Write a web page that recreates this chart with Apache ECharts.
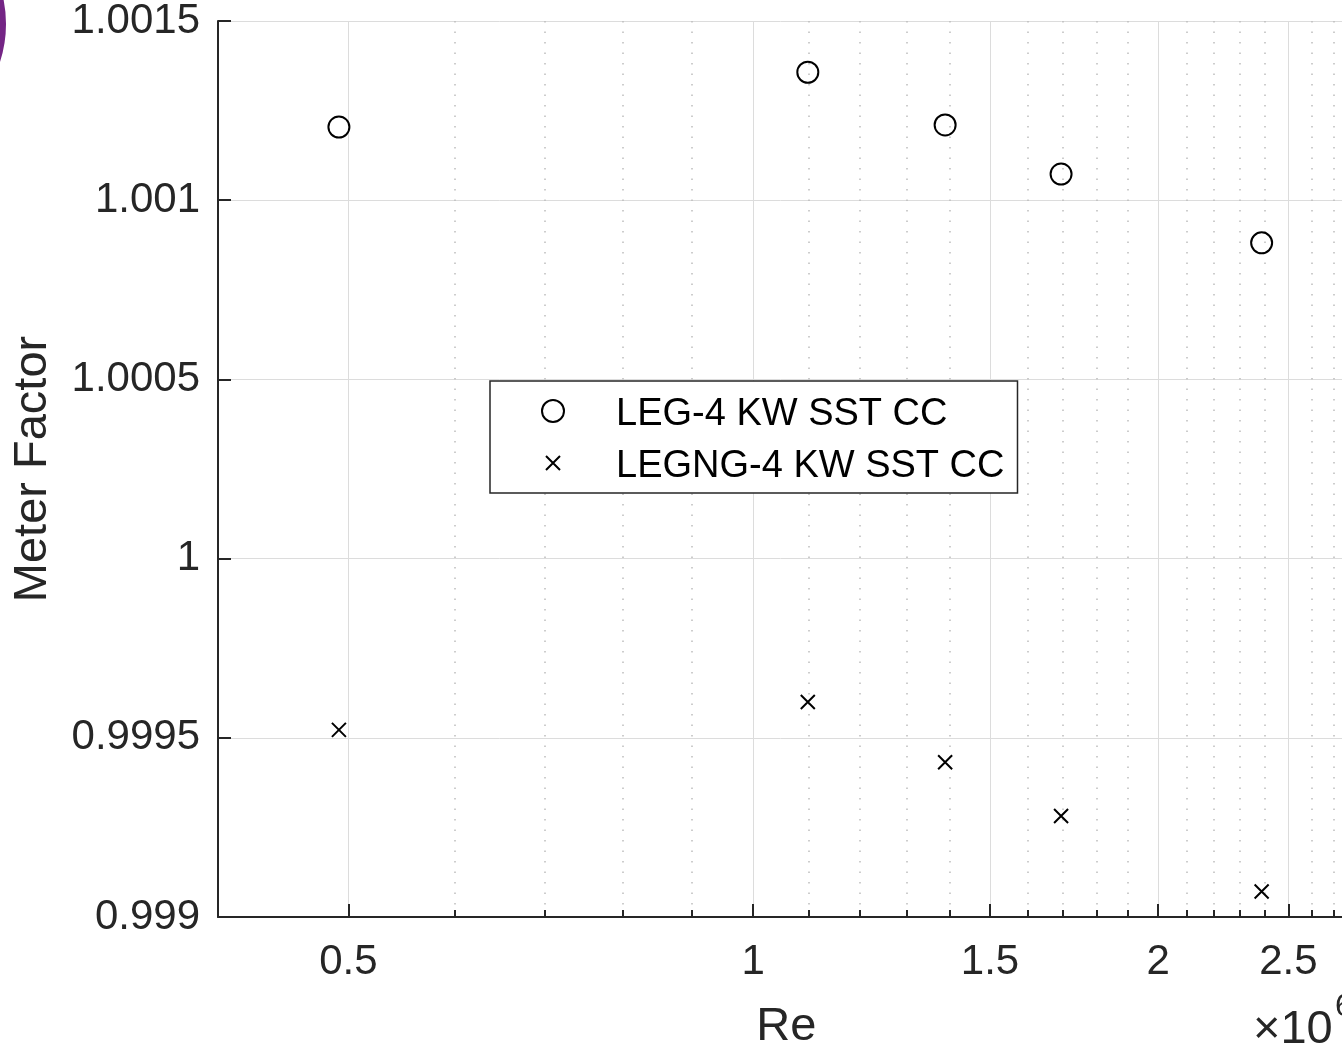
<!DOCTYPE html>
<html>
<head>
<meta charset="utf-8">
<title>Meter Factor vs Re</title>
<script src="https://cdn.jsdelivr.net/npm/echarts@6/dist/echarts.min.js"></script>
<style>
  html, body { margin: 0; padding: 0; background: #ffffff; }
  #chart { width: 1342px; height: 1053px; }
</style>
</head>
<body>
<div id="chart"></div>
<script>
// Reynolds number in units of 10^6
const reMillions = [0.492, 1.098, 1.389, 1.694, 2.388];
// Meter factor, circle series
const mfLEG = [1.001204, 1.001357, 1.00121, 1.001073, 1.000881];
// Meter factor, cross series
const mfLEGNG = [0.999522, 0.9996, 0.999432, 0.999282, 0.999071];
const seriesNames = ['LEG-4 KW SST CC', 'LEGNG-4 KW SST CC'];
// Log-axis ticks (major labelled, minor dotted)
const xMajorTicks = [0.5, 1, 1.5, 2, 2.5];
const xMinorTicks = [0.6, 0.7, 0.8, 0.9, 1.1, 1.2, 1.3, 1.4, 1.6, 1.7, 1.8, 1.9,
                     2.1, 2.2, 2.3, 2.4, 2.6, 2.7];
const xRange = [0.4, 2.8];
const yRange = [0.999, 1.0015];
const yStep = 0.0005;

const FONT = '"Liberation Sans", Arial, Helvetica, sans-serif';
const INK = '#262626';
const CROSS = 'path://M0,0M22,22M4,4L18,18M18,4L4,18';

const chart = echarts.init(document.getElementById('chart'), null, { renderer: 'canvas' });

const pairs = (ys) => reMillions.map((x, i) => [x, ys[i]]);

chart.setOption({
  animation: false,
  backgroundColor: '#ffffff',
  textStyle: { fontFamily: FONT },
  grid: {
    left: 218, top: 21, width: 1136.6, height: 896,
    containLabel: false, outerBoundsMode: 'none'
  },
  legend: {
    orient: 'vertical',
    left: 490, top: 381,
    padding: [7, 13, 7, 51],
    itemWidth: 116, itemHeight: 22, itemGap: 6,
    backgroundColor: '#ffffff',
    borderColor: INK, borderWidth: 1.5, borderRadius: 0,
    selectedMode: false,
    formatter: (name) => '{t|' + name + '}',
    textStyle: {
      fontFamily: FONT, fontSize: 38, color: '#000000', lineHeight: 38,
      rich: { t: { fontFamily: FONT, fontSize: 38, color: '#000000',
                   lineHeight: 38, padding: [8, 0, 0, 0] } }
    },
    data: seriesNames
  },
  xAxis: [
    {
      type: 'log', logBase: 10, min: xRange[0], max: xRange[1],
      name: 'Re', nameLocation: 'middle', nameGap: 87,
      nameTextStyle: { fontFamily: FONT, fontSize: 47, color: INK },
      axisLine: { show: true, onZero: false, lineStyle: { color: INK, width: 2 } },
      axisTick: { show: true, inside: true, length: 13, customValues: xMajorTicks,
                  lineStyle: { color: INK, width: 2 } },
      axisLabel: { show: true, customValues: xMajorTicks, margin: 24,
                   fontFamily: FONT, fontSize: 42, color: INK,
                   formatter: (v) => String(+(+v).toPrecision(3)) },
      splitLine: { show: true, lineStyle: { color: '#dcdcdc', width: 1 } },
      minorTick: { show: false }, minorSplitLine: { show: false }
    },
    {
      type: 'log', logBase: 10, min: xRange[0], max: xRange[1],
      position: 'bottom', offset: 0,
      axisLine: { show: false },
      axisTick: { show: true, inside: true, length: 7, customValues: xMinorTicks,
                  lineStyle: { color: INK, width: 2 } },
      axisLabel: { show: false },
      splitLine: { show: true, lineStyle: { color: '#bdbdbd', width: 1.5, type: [1.5, 9] } },
      minorTick: { show: false }, minorSplitLine: { show: false }
    }
  ],
  yAxis: {
    type: 'value', min: yRange[0], max: yRange[1], interval: yStep,
    name: 'Meter Factor', nameLocation: 'middle', nameGap: 161, nameRotate: 90,
    nameTextStyle: { fontFamily: FONT, fontSize: 47, color: INK },
    axisLine: { show: true, onZero: false, lineStyle: { color: INK, width: 2 } },
    axisTick: { show: true, inside: true, length: 13, lineStyle: { color: INK, width: 2 } },
    axisLabel: { margin: 18, fontFamily: FONT, fontSize: 42, color: INK,
                 formatter: (v) => String(+(+v).toFixed(4)) },
    splitLine: { show: true, lineStyle: { color: '#dcdcdc', width: 1 } }
  },
  series: [
    {
      name: seriesNames[0], type: 'scatter', xAxisIndex: 0,
      symbol: 'circle', symbolSize: 21,
      itemStyle: { color: 'rgba(0,0,0,0)', borderColor: '#000000', borderWidth: 2, opacity: 1 },
      emphasis: { disabled: true },
      data: pairs(mfLEG)
    },
    {
      name: seriesNames[1], type: 'scatter', xAxisIndex: 0,
      symbol: CROSS, symbolSize: 22, symbolKeepAspect: true,
      itemStyle: { color: 'rgba(0,0,0,0)', borderColor: '#000000', borderWidth: 2, opacity: 1 },
      emphasis: { disabled: true },
      data: pairs(mfLEGNG)
    }
  ],
  graphic: [
    {
      type: 'circle', silent: true,
      shape: { cx: -117, cy: 24, r: 119 },
      style: { fill: 'none', stroke: '#742585', lineWidth: 8 }
    },
    {
      type: 'text', silent: true, x: 1253, y: 1030,
      style: { text: '×10', font: '47px ' + FONT, fill: INK,
               textAlign: 'left', align: 'left',
               textVerticalAlign: 'middle', verticalAlign: 'middle' }
    },
    {
      type: 'text', silent: true, x: 1335, y: 1007,
      style: { text: '6', font: '32px ' + FONT, fill: INK,
               textAlign: 'left', align: 'left',
               textVerticalAlign: 'middle', verticalAlign: 'middle' }
    }
  ]
});
</script>
</body>
</html>
